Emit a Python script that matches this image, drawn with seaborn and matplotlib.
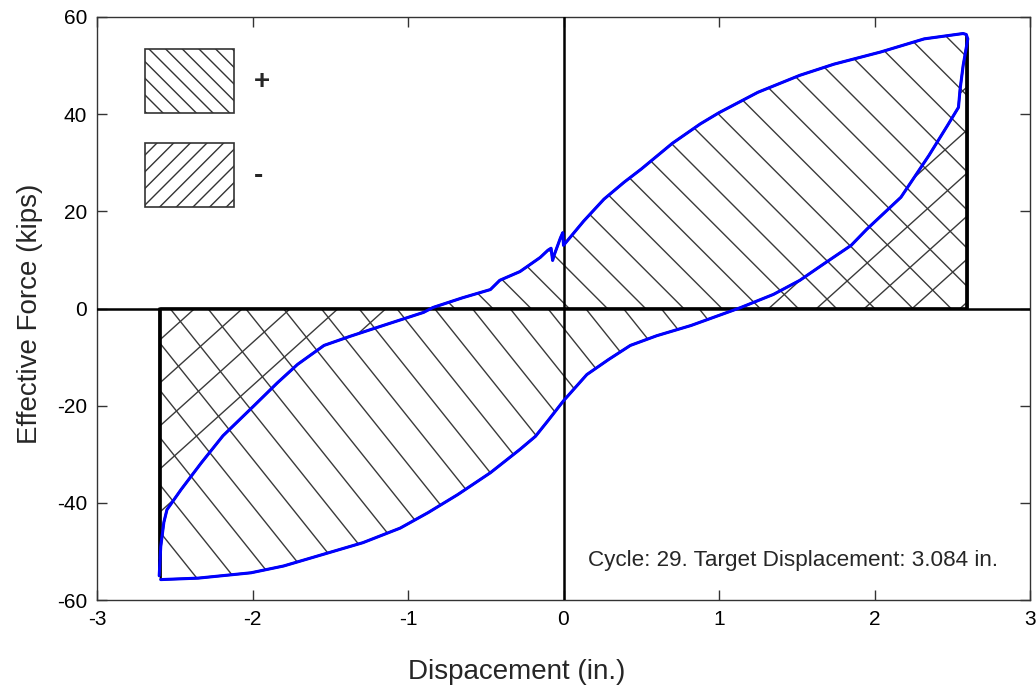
import numpy as np
import pandas as pd
import matplotlib
matplotlib.use("Agg")
import matplotlib.pyplot as plt
import seaborn as sns
from matplotlib.collections import LineCollection
from matplotlib.patches import Patch

# ---------------- data ----------------
# upper / left branch of the hysteresis loop (left -> right)
up_x = [-2.60, -2.59, -2.57, -2.55, -2.46, -2.33, -2.19, -1.99, -1.84, -1.71,
        -1.54, -1.37, -1.16, -0.90, -0.84, -0.65, -0.47, -0.41, -0.28, -0.15,
        -0.10, -0.08, -0.07, -0.06, -0.02, -0.005, 0.0, 0.13, 0.26, 0.39,
        0.50, 0.70, 0.88, 1.00, 1.25, 1.52, 1.74, 2.04, 2.32, 2.57, 2.59]
up_y = [-55.0, -49.0, -44.0, -41.4, -37.3, -31.8, -26.2, -20.0, -15.3, -11.5,
        -7.6, -5.7, -3.5, -0.8, 0.2, 2.2, 3.9, 5.8, 7.6, 10.5,
        12.0, 12.4, 9.9, 11.0, 14.5, 15.6, 13.0, 18.0, 22.5, 26.0,
        28.7, 34.0, 38.0, 40.3, 44.5, 48.0, 50.3, 52.8, 55.5, 56.6, 56.4]

# lower / right branch of the loop (left -> right)
lo_x = [-2.59, -2.35, -2.01, -1.80, -1.29, -1.05, -0.87, -0.68, -0.47, -0.28,
        -0.18, -0.10, 0.0, 0.15, 0.29, 0.43, 0.60, 0.82, 1.14, 1.35, 1.52,
        1.67, 1.85, 1.95, 2.17, 2.35, 2.47, 2.54, 2.55, 2.57, 2.60]
lo_y = [-55.8, -55.5, -54.4, -53.0, -48.2, -45.2, -42.0, -38.3, -33.8, -29.0,
        -26.3, -23.1, -19.0, -13.6, -10.5, -7.6, -5.6, -3.5, 0.2, 2.9, 5.8,
        9.1, 13.0, 16.3, 22.9, 31.5, 37.7, 41.4, 45.0, 50.0, 55.5]

legend_labels = ["+", "-"]
x_ticks = [-3, -2, -1, 0, 1, 2, 3]
y_ticks = [-60, -40, -20, 0, 20, 40, 60]
note = "Cycle: 29. Target Displacement: 3.084 in."

# ---------------- style ----------------
sns.set_style("ticks")
plt.rcParams["font.family"] = ["Liberation Sans", "DejaVu Sans"]
plt.rcParams["axes.unicode_minus"] = False
plt.rcParams["hatch.linewidth"] = 1.0
plt.rcParams["hatch.color"] = "#333333"

fig = plt.figure(figsize=(10.36, 6.92), dpi=100)
ax = fig.add_axes([97 / 1036, 92 / 692, 933 / 1036, 583 / 692])
ax.set_xlim(-3, 3)
ax.set_ylim(-60, 60)

# loop line (upper branch then lower branch reversed -> closed loop)
loop = pd.DataFrame({"x": up_x + lo_x[::-1], "y": up_y + lo_y[::-1]})
sns.lineplot(data=loop, x="x", y="y", sort=False, estimator=None,
             color="#0000ff", lw=2.2, ax=ax, zorder=6)

ax.axhline(0, color="black", lw=1.8, zorder=4)
ax.axvline(0, color="black", lw=1.8, zorder=4)


def hatch_lines(ax, path, slope, spacing, offset=0.0):
    W, H = ax.bbox.width, ax.bbox.height
    dv = spacing * np.hypot(1.0, slope)
    cmin = min(0.0, -slope * W) - dv
    cmax = max(H, H - slope * W) + dv
    cs = np.arange(cmin + offset, cmax, dv)
    segs = [[(0.0, c / H), (1.0, (c + slope * W) / H)] for c in cs]
    lc = LineCollection(segs, transform=ax.transAxes, colors="#3a3a3a",
                        linewidths=1.0, zorder=2)
    ax.add_collection(lc, autolim=False)
    lc.set_clip_path(path, ax.transData)


ux, uy = np.array(up_x), np.array(up_y)
lx, ly = np.array(lo_x), np.array(lo_y)
regions = [
    (ux, uy, uy >= 0, -1.0, 27.0, 0.0),   # + (work positive)
    (ux, uy, uy <= 0, 0.9, 32.0, 10.0),   # -
    (lx, ly, ly <= 0, -1.25, 29.5, 5.0),  # +
    (lx, ly, ly >= 0, 0.9, 32.0, 10.0),   # -
]
for x, y, w, slope, sp, off in regions:
    pc = ax.fill_between(x, y, 0, where=w, interpolate=True,
                         facecolor="none", edgecolor="black", lw=1.6, zorder=3)
    for p in pc.get_paths():
        hatch_lines(ax, p, slope, sp, off)

# legend with hatched boxes
handles = [Patch(facecolor="white", edgecolor="#333333", hatch="\\\\", lw=1.2),
           Patch(facecolor="white", edgecolor="#333333", hatch="//", lw=1.2)]
ax.legend(handles, legend_labels, loc="upper left",
          bbox_to_anchor=((145 - 97) / 933, (600 - 49) / 583),
          prop={"weight": "bold", "size": 20}, frameon=False,
          handlelength=3.2, handleheight=3.16, handletextpad=0.73,
          labelspacing=1.1, borderpad=0, borderaxespad=0)

ax.text(0.16, -51.8, note, fontsize=16.2, ha="left", va="center", zorder=7)

ax.set_xticks(x_ticks)
ax.set_yticks(y_ticks)
ax.tick_params(direction="in", length=7, width=1, top=True, right=True,
               labelsize=15, pad=7, color="#333333", labelcolor="black")
for s in ax.spines.values():
    s.set_linewidth(1.0)
    s.set_color("#333333")

ax.set_xlabel("Dispacement (in.)", fontsize=20)
ax.set_ylabel("Effective Force (kips)", fontsize=20)
ax.xaxis.set_label_coords((517 - 97) / 933, (600 - 672) / 583)
ax.xaxis.label.set_va("center")
ax.yaxis.set_label_coords((30 - 97) / 933, (600 - 314) / 583)
ax.yaxis.label.set_va("center")

fig.savefig("out.png", dpi=100, facecolor="white")
